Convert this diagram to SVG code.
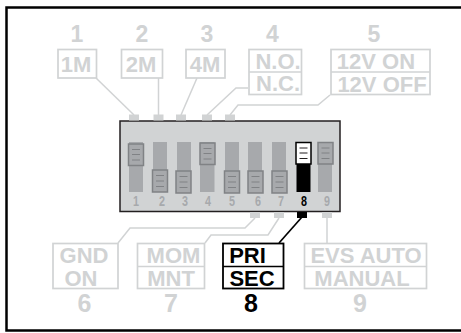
<svg xmlns="http://www.w3.org/2000/svg" width="461" height="333" viewBox="0 0 461 333">
<defs>
<style>
text{font-family:"Liberation Sans",Arial,sans-serif;font-weight:700;text-anchor:middle}
.g{fill:#d1d3d4}.k{fill:#000}
.b{fill:#fff;stroke:#d1d3d4;stroke-width:1.7}
.bk{fill:#fff;stroke:#000;stroke-width:1.8}
.l{fill:none;stroke:#d1d3d4;stroke-width:1.5}
.n{font-size:23px}.n2{font-size:25px}.t{font-size:22px}.d{font-size:14px}
.slot{fill:#a7a9ac}
.sl{fill:#a7a9ac;stroke:#808285;stroke-width:1.5}
.r{stroke:#808285;stroke-width:1}
.tab{fill:#d1d3d4}
</style>
</defs>
<rect x="6.500" y="7.500" width="470" height="323" fill="#fff" stroke="#000" stroke-width="2.500"/>
<g id="connectors">
<path class="l" d="M96 78L134 115"/>
<path class="l" d="M158.500 78V115"/>
<path class="l" d="M197 78L181 115"/>
<path class="l" d="M248 88H236L207 115"/>
<path class="l" d="M330 95L318 105H238L230 115"/>
<path class="l" d="M255 218L245 228H130L118 243"/>
<path class="l" d="M279 218L268 235H211L205 243"/>
<path d="M302 217L279 243" fill="none" stroke="#000" stroke-width="1.700"/>
<path class="l" d="M327 218V243"/>
</g>
<g id="dip-switch">
<rect x="120" y="121" width="220" height="90.500" fill="#d1d3d4" stroke="#231f20" stroke-width="1.500"/>
<rect class="tab" x="129" y="114.500" width="10" height="6"/>
<rect class="tab" x="153.500" y="114.500" width="10" height="6"/>
<rect class="tab" x="176" y="114.500" width="10" height="6"/>
<rect class="tab" x="202" y="114.500" width="10" height="6"/>
<rect class="tab" x="225" y="114.500" width="10" height="6"/>
<rect class="tab" x="250" y="212" width="10" height="6"/>
<rect class="tab" x="274" y="212" width="10" height="6"/>
<rect x="297" y="212" width="10" height="6" fill="#000"/>
<rect class="tab" x="322" y="212" width="10" height="6"/>
</g>
<g id="switch-1"><rect class="slot" x="129" y="142" width="14" height="50"/><rect class="sl" x="128.500" y="144" width="15" height="21.500"/><path class="r" d="M132 149.500H140M132 154.500H140M132 160H140"/><text class="d" x="136" y="206" fill="#a7a9ac" textLength="6" lengthAdjust="spacingAndGlyphs">1</text></g>
<g id="switch-2"><rect class="slot" x="153" y="142" width="14" height="50"/><rect class="sl" x="152.500" y="170" width="15" height="22"/><path class="r" d="M156 175.500H164M156 181H164M156 186.500H164"/><text class="d" x="162" y="206" fill="#a7a9ac" textLength="6" lengthAdjust="spacingAndGlyphs">2</text></g>
<g id="switch-3"><rect class="slot" x="177" y="142" width="14" height="50"/><rect class="sl" x="176" y="171" width="15" height="22"/><path class="r" d="M179.500 176.500H187.500M179.500 182H187.500M179.500 187.500H187.500"/><text class="d" x="185" y="206" fill="#a7a9ac" textLength="6" lengthAdjust="spacingAndGlyphs">3</text></g>
<g id="switch-4"><rect class="slot" x="200" y="142" width="14.500" height="50"/><rect class="sl" x="200" y="143" width="15" height="21.500"/><path class="r" d="M203.500 148.500H211.500M203.500 153.500H211.500M203.500 159H211.500"/><text class="d" x="208" y="206" fill="#a7a9ac" textLength="6" lengthAdjust="spacingAndGlyphs">4</text></g>
<g id="switch-5"><rect class="slot" x="225" y="142" width="14" height="50"/><rect class="sl" x="224.500" y="171" width="15" height="22"/><path class="r" d="M228 176.500H236M228 182H236M228 187.500H236"/><text class="d" x="232" y="206" fill="#a7a9ac" textLength="6" lengthAdjust="spacingAndGlyphs">5</text></g>
<g id="switch-6"><rect class="slot" x="248" y="142" width="14" height="50"/><rect class="sl" x="248" y="171" width="15" height="22"/><path class="r" d="M251.500 176.500H259.500M251.500 182H259.500M251.500 187.500H259.500"/><text class="d" x="258" y="206" fill="#a7a9ac" textLength="6" lengthAdjust="spacingAndGlyphs">6</text></g>
<g id="switch-7"><rect class="slot" x="272" y="142" width="14" height="50"/><rect class="sl" x="272" y="171" width="15" height="22"/><path class="r" d="M275.500 176.500H283.500M275.500 182H283.500M275.500 187.500H283.500"/><text class="d" x="281" y="206" fill="#a7a9ac" textLength="6" lengthAdjust="spacingAndGlyphs">7</text></g>
<g id="switch-8"><rect x="296.500" y="142" width="14" height="50" fill="#000"/><rect x="296" y="142.500" width="15" height="21.500" fill="#fff" stroke="#000" stroke-width="1.500"/><path d="M299.500 148H307.500M299.500 153H307.500M299.500 158.500H307.500" stroke="#231f20"/><text class="d k" x="304" y="206" textLength="6" lengthAdjust="spacingAndGlyphs">8</text></g>
<g id="switch-9"><rect class="slot" x="318" y="142" width="14" height="50"/><rect class="sl" x="318" y="142.500" width="15" height="21.500"/><path class="r" d="M321.500 148H329.500M321.500 153H329.500M321.500 158.500H329.500"/><text class="d" x="327" y="206" fill="#a7a9ac" textLength="6" lengthAdjust="spacingAndGlyphs">9</text></g>
<g id="label-1"><text class="n g" x="77" y="42">1</text><rect class="b" x="58" y="49.500" width="38.500" height="28.500"/><text class="t g" x="76" y="71.500">1M</text></g>
<g id="label-2"><text class="n g" x="142" y="42">2</text><rect class="b" x="121.500" y="49.500" width="41" height="28.500"/><text class="t g" x="141" y="71.500">2M</text></g>
<g id="label-3"><text class="n g" x="207" y="42">3</text><rect class="b" x="186" y="49.500" width="39" height="28.500"/><text class="t g" x="205" y="71.500">4M</text></g>
<g id="label-4"><text class="n g" x="272.500" y="42">4</text><rect class="b" x="249" y="49.500" width="52.500" height="45"/><path class="l" d="M249 72H301.500"/><text class="t g" x="278" y="68.500">N.O.</text><text class="t g" x="278" y="90.500">N.C.</text></g>
<g id="label-5"><text class="n g" x="374" y="42">5</text><rect class="b" x="331" y="49.500" width="99" height="45"/><path class="l" d="M331 72H430"/><text class="t g" x="376" y="69">12V ON</text><text class="t g" x="382" y="92">12V OFF</text></g>
<g id="label-6"><text class="n2 g" x="84.500" y="311.500">6</text><rect class="b" x="53" y="243.500" width="65" height="45"/><text class="t g" x="84" y="263">GND</text><text class="t g" x="81" y="286">ON</text></g>
<g id="label-7"><text class="n2 g" x="171" y="311.500">7</text><rect class="b" x="137.500" y="243.500" width="67" height="45"/><path class="l" d="M137.500 266.500H204.500"/><text class="t g" x="173.500" y="263">MOM</text><text class="t g" x="171" y="286">MNT</text></g>
<g id="label-8"><text class="n2 k" x="251" y="311.500">8</text><rect class="bk" x="223" y="243.500" width="60.500" height="45"/><path d="M223 266.500H283.500" stroke="#000" stroke-width="1.500"/><text class="t k" x="247.500" y="263">PRI</text><text class="t k" x="252" y="286">SEC</text></g>
<g id="label-9"><text class="n2 g" x="360" y="311.500">9</text><rect class="b" x="304.500" y="243.500" width="122" height="45"/><path class="l" d="M304.500 266.500H426.500"/><text class="t g" x="366" y="263">EVS AUTO</text><text class="t g" x="362" y="286">MANUAL</text></g>
</svg>
